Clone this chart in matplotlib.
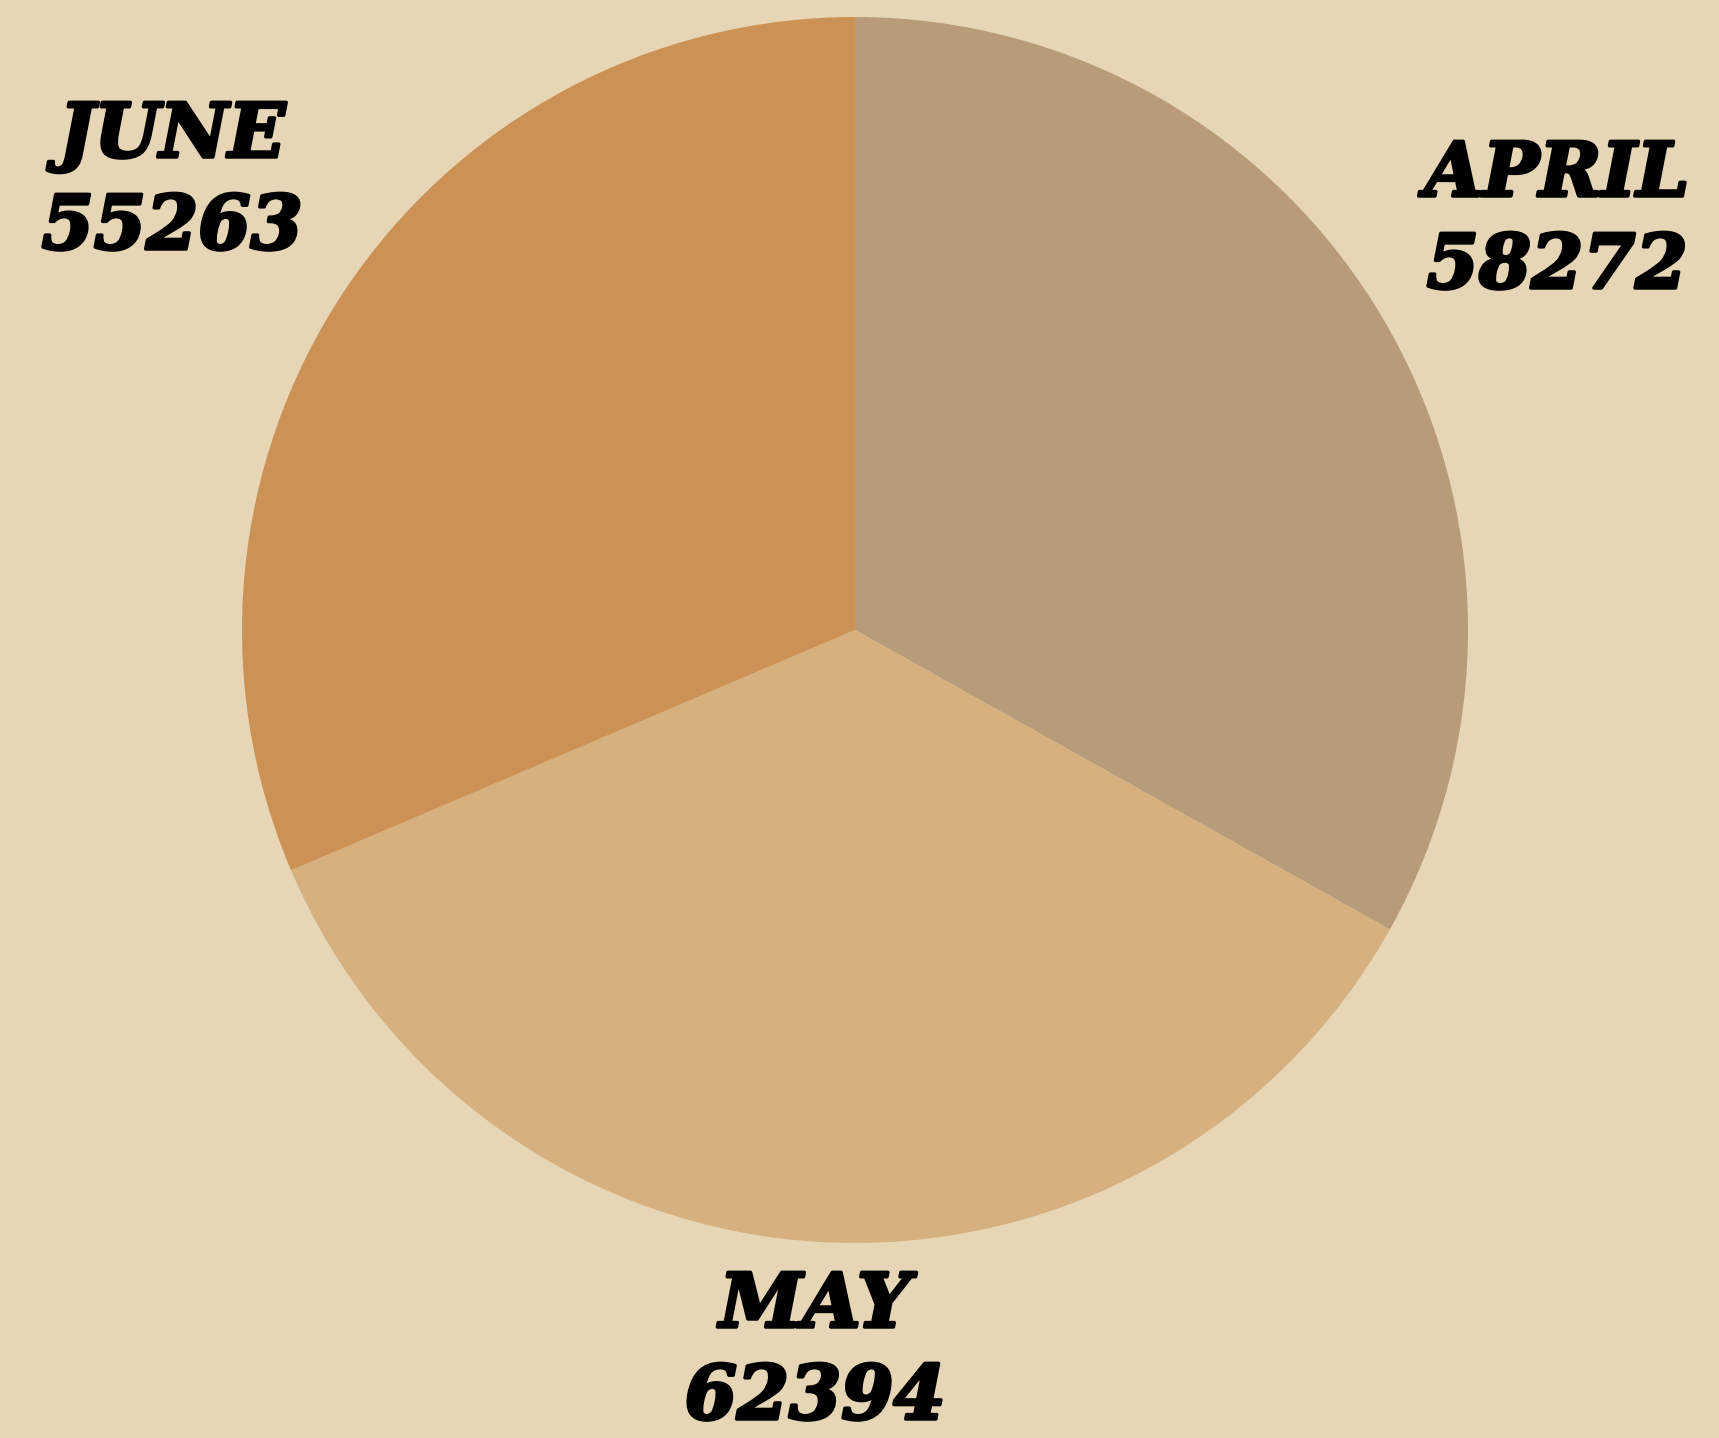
import matplotlib.pyplot as plt
import matplotlib.patheffects as pe

# data
months = ['APRIL', 'MAY', 'JUNE']
sales = [58272, 62394, 55263]
colors = ['#b89c7a', '#d6b17f', '#cc9155']

W, H = 1719, 1438
fig = plt.figure(figsize=(W / 100, H / 100), dpi=100)
fig.patch.set_facecolor('#e6d6b6')

# pie centre (855,630) px, radius 613 px
cx, cy, r = 855, 630, 613
ax = fig.add_axes([(cx - r) / W, (H - cy - r) / H, 2 * r / W, 2 * r / H])
ax.pie(sales, colors=colors, startangle=90, counterclock=False, radius=1,
       wedgeprops=dict(linewidth=0))
ax.set_xlim(-1, 1)
ax.set_ylim(-1, 1)
ax.set_aspect('equal')
ax.axis('off')

# label positions (x centre, baseline of name) in pixels
label_pos = {'APRIL': (1557, 196), 'MAY': (815, 1327), 'JUNE': (172, 157)}
for m, v in zip(months, sales):
    x, y = label_pos[m]
    kw = dict(ha='center', va='baseline', fontsize=54, fontweight='heavy',
              fontstyle='italic', family='DejaVu Serif', color='black',
              path_effects=[pe.withStroke(linewidth=2.5, foreground='black',
                                          joinstyle='round')])
    fig.text(x / W, 1 - y / H, m, **kw)
    fig.text(x / W, 1 - (y + 92) / H, str(v), **kw)

fig.savefig('out.png', dpi=100, facecolor=fig.get_facecolor())
